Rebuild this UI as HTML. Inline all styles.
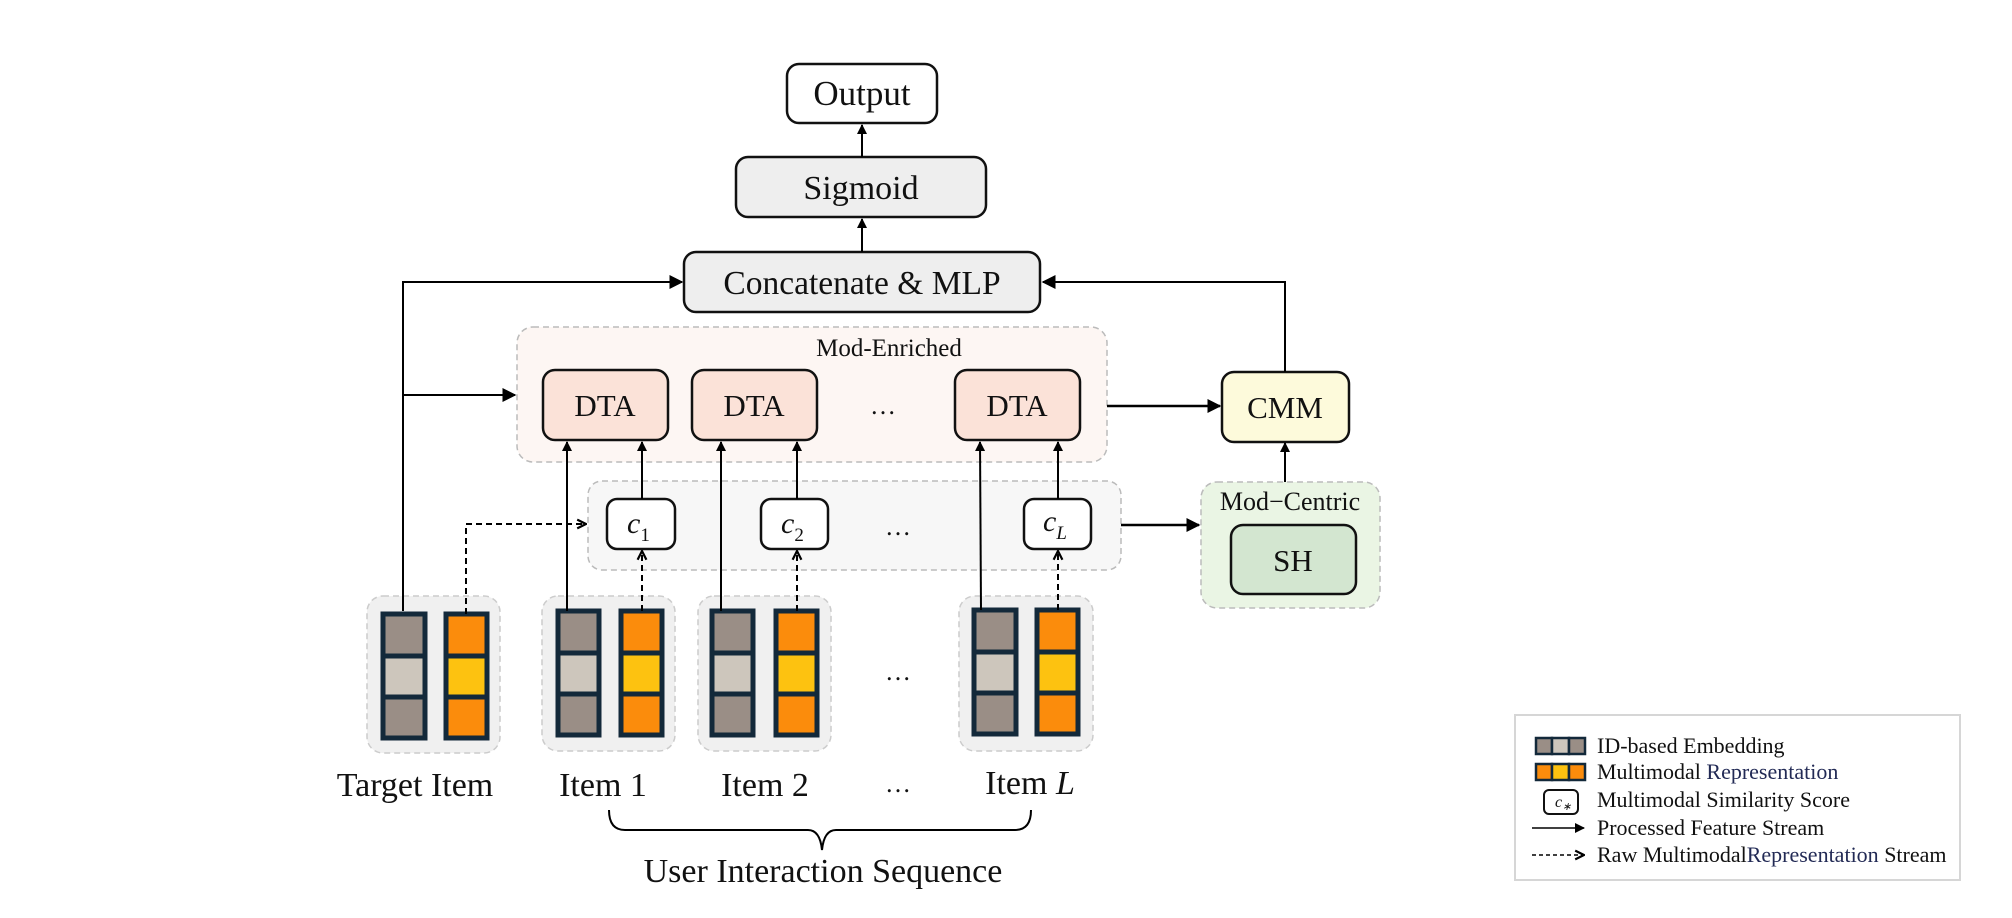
<!DOCTYPE html>
<html><head><meta charset="utf-8"><style>
html,body{margin:0;padding:0;background:#fff;}
svg{display:block;}
text{font-family:"Liberation Serif",serif;fill:#111;}
</style></head><body>
<svg width="2012" height="918" viewBox="0 0 2012 918" xmlns="http://www.w3.org/2000/svg">
<defs>
<marker id="ah" viewBox="0 0 10 10" refX="9" refY="5" markerWidth="10" markerHeight="10" markerUnits="userSpaceOnUse" orient="auto"><path d="M0,0 L10,5 L0,10 z" fill="#000"/></marker>
<marker id="ahb" viewBox="0 0 10 10" refX="9" refY="5" markerWidth="14" markerHeight="14" markerUnits="userSpaceOnUse" orient="auto"><path d="M0,0 L10,5 L0,10 z" fill="#000"/></marker>
<marker id="ao" viewBox="0 0 10 10" refX="9" refY="5" markerWidth="11" markerHeight="11" markerUnits="userSpaceOnUse" orient="auto"><path d="M1,1 L9,5 L1,9" fill="none" stroke="#000" stroke-width="2"/></marker>
</defs>

<!-- containers -->
<rect x="517" y="327" width="590" height="135" rx="16" fill="#fdf6f3" stroke="#bbb" stroke-width="1.5" stroke-dasharray="6,4"/>
<text x="889" y="356" font-size="25" text-anchor="middle">Mod-Enriched</text>
<rect x="588" y="481" width="533" height="89" rx="14" fill="#f7f7f7" stroke="#bbb" stroke-width="1.5" stroke-dasharray="6,4"/>
<rect x="1201" y="482" width="179" height="126" rx="16" fill="#eaf5e4" stroke="#bbb" stroke-width="1.5" stroke-dasharray="6,4"/>
<text x="1290" y="510" font-size="26" text-anchor="middle">Mod−Centric</text>

<!-- item groups -->
<rect x="367" y="596" width="133" height="157" rx="16" fill="#f0f0f0" stroke="#ccc" stroke-width="1.5" stroke-dasharray="6,4"/>
<rect x="542" y="596" width="133" height="155" rx="16" fill="#f0f0f0" stroke="#ccc" stroke-width="1.5" stroke-dasharray="6,4"/>
<rect x="698" y="596" width="133" height="155" rx="16" fill="#f0f0f0" stroke="#ccc" stroke-width="1.5" stroke-dasharray="6,4"/>
<rect x="959" y="596" width="134" height="155" rx="16" fill="#f0f0f0" stroke="#ccc" stroke-width="1.5" stroke-dasharray="6,4"/>

<!-- bars -->
<g stroke="#13293a" stroke-width="5">
<rect x="383" y="614" width="42" height="42" fill="#9a8e86"/><rect x="383" y="656" width="42" height="41" fill="#cdc6bc"/><rect x="383" y="697" width="42" height="41" fill="#9a8e86"/>
<rect x="446" y="614" width="41" height="42" fill="#fb8c0c"/><rect x="446" y="656" width="41" height="41" fill="#fdc210"/><rect x="446" y="697" width="41" height="41" fill="#fb8c0c"/>
<rect x="558" y="611" width="41" height="42" fill="#9a8e86"/><rect x="558" y="653" width="41" height="41" fill="#cdc6bc"/><rect x="558" y="694" width="41" height="41" fill="#9a8e86"/>
<rect x="621" y="611" width="41" height="42" fill="#fb8c0c"/><rect x="621" y="653" width="41" height="41" fill="#fdc210"/><rect x="621" y="694" width="41" height="41" fill="#fb8c0c"/>
<rect x="712" y="611" width="41" height="42" fill="#9a8e86"/><rect x="712" y="653" width="41" height="41" fill="#cdc6bc"/><rect x="712" y="694" width="41" height="41" fill="#9a8e86"/>
<rect x="776" y="611" width="41" height="42" fill="#fb8c0c"/><rect x="776" y="653" width="41" height="41" fill="#fdc210"/><rect x="776" y="694" width="41" height="41" fill="#fb8c0c"/>
<rect x="974" y="610" width="42" height="42" fill="#9a8e86"/><rect x="974" y="652" width="42" height="41" fill="#cdc6bc"/><rect x="974" y="693" width="42" height="41" fill="#9a8e86"/>
<rect x="1037" y="610" width="41" height="42" fill="#fb8c0c"/><rect x="1037" y="652" width="41" height="41" fill="#fdc210"/><rect x="1037" y="693" width="41" height="41" fill="#fb8c0c"/>
</g>
<text x="898" y="680" font-size="26" text-anchor="middle">…</text>

<!-- boxes -->
<g stroke="#111" stroke-width="2.5">
<rect x="787" y="64" width="150" height="59" rx="12" fill="#fff"/>
<rect x="736" y="157" width="250" height="60" rx="12" fill="#eeeeee"/>
<rect x="684" y="252" width="356" height="60" rx="12" fill="#eeeeee"/>
<rect x="543" y="370" width="125" height="70" rx="12" fill="#fbe2d8"/>
<rect x="692" y="370" width="125" height="70" rx="12" fill="#fbe2d8"/>
<rect x="955" y="370" width="125" height="70" rx="12" fill="#fbe2d8"/>
<rect x="1222" y="372" width="127" height="70" rx="12" fill="#fdfadb"/>
<rect x="1231" y="525" width="125" height="69" rx="12" fill="#d3e6d0"/>
<rect x="607" y="499" width="68" height="50" rx="10" fill="#fff"/>
<rect x="761" y="499" width="67" height="50" rx="10" fill="#fff"/>
<rect x="1024" y="499" width="67" height="50" rx="10" fill="#fff"/>
</g>
<g font-size="31" text-anchor="middle">
<text x="862" y="105" font-size="35">Output</text>
<text x="861" y="199" font-size="34">Sigmoid</text>
<text x="862" y="294" font-size="33.5">Concatenate &amp; MLP</text>
<text x="605" y="416">DTA</text>
<text x="754" y="416">DTA</text>
<text x="1017" y="416">DTA</text>
<text x="1285" y="418">CMM</text>
<text x="1293" y="571">SH</text>
</g>
<text x="883" y="414" font-size="26" text-anchor="middle">…</text>
<text x="898" y="535" font-size="26" text-anchor="middle">…</text>
<g font-size="30" font-style="italic">
<text x="627" y="533">c<tspan font-size="19" font-style="normal" dy="8">1</tspan></text>
<text x="781" y="533">c<tspan font-size="19" font-style="normal" dy="8">2</tspan></text>
<text x="1043" y="531">c<tspan font-size="19" dy="8">L</tspan></text>
</g>

<!-- solid connectors -->
<g stroke="#000" stroke-width="2" fill="none">
<path d="M403,611 L403,282 L682,282" marker-end="url(#ahb)"/>
<path d="M403,395 L515,395" marker-end="url(#ahb)"/>
<path d="M1285,372 L1285,282 L1043,282" marker-end="url(#ahb)"/>
<path d="M1107,406 L1220,406" stroke-width="2.5" marker-end="url(#ahb)"/>
<path d="M1121,525 L1199,525" stroke-width="2.5" marker-end="url(#ahb)"/>
<path d="M1285,482 L1285,443" marker-end="url(#ah)"/>
<path d="M862,157 L862,125" marker-end="url(#ah)"/>
<path d="M862,252 L862,219" marker-end="url(#ah)"/>
<path d="M567,611 L567,442" marker-end="url(#ah)"/>
<path d="M642,499 L642,442" marker-end="url(#ah)"/>
<path d="M721,611 L721,442" marker-end="url(#ah)"/>
<path d="M797,499 L797,442" marker-end="url(#ah)"/>
<path d="M981,610 L980,442" marker-end="url(#ah)"/>
<path d="M1058,499 L1058,442" marker-end="url(#ah)"/>
</g>
<g stroke="#000" stroke-width="2" fill="none" stroke-dasharray="6,4">
<path d="M466,614 L466,524 L586,524" marker-end="url(#ao)"/>
<path d="M642,611 L642,551" marker-end="url(#ao)"/>
<path d="M797,611 L797,551" marker-end="url(#ao)"/>
<path d="M1058,610 L1058,551" marker-end="url(#ao)"/>
</g>

<!-- labels -->
<g font-size="34" text-anchor="middle">
<text x="415" y="796">Target Item</text>
<text x="603" y="796">Item 1</text>
<text x="765" y="796">Item 2</text>
<text x="898" y="792" font-size="26">…</text>
<text x="1030" y="794">Item <tspan font-style="italic">L</tspan></text>
<text x="823" y="882">User Interaction Sequence</text>
</g>
<path d="M609,810 Q609,830 625,830 L808,830 Q820,830 822,850 Q824,830 836,830 L1015,830 Q1031,830 1031,810" fill="none" stroke="#000" stroke-width="2"/>

<!-- legend -->
<rect x="1515" y="715" width="445" height="165" fill="#fff" stroke="#d6d6d6" stroke-width="2"/>
<g stroke="#13293a" stroke-width="2.5">
<rect x="1536" y="738" width="16" height="16" fill="#9a8e86"/><rect x="1552" y="738" width="17" height="16" fill="#cdc6bc"/><rect x="1569" y="738" width="16" height="16" fill="#9a8e86"/>
<rect x="1536" y="764" width="16" height="16" fill="#fb8c0c"/><rect x="1552" y="764" width="17" height="16" fill="#fdc210"/><rect x="1569" y="764" width="16" height="16" fill="#fb8c0c"/>
</g>
<rect x="1544" y="790" width="34" height="24" rx="5" fill="#fff" stroke="#111" stroke-width="2"/>
<text x="1555" y="807" font-size="16" font-style="italic">c<tspan font-size="11" dy="3">∗</tspan></text>
<path d="M1532,828 L1584,828" stroke="#000" stroke-width="1.5" marker-end="url(#ah)"/>
<path d="M1532,855 L1584,855" stroke="#000" stroke-width="1.5" stroke-dasharray="4,3" marker-end="url(#ao)"/>
<g font-size="22">
<text x="1597" y="753">ID-based Embedding</text>
<text x="1597" y="779">Multimodal <tspan fill="#222a55">Representation</tspan></text>
<text x="1597" y="807">Multimodal Similarity Score</text>
<text x="1597" y="835">Processed Feature Stream</text>
<text x="1597" y="862">Raw Multimodal<tspan fill="#222a55">Representation</tspan> Stream</text>
</g>
</svg>
</body></html>
